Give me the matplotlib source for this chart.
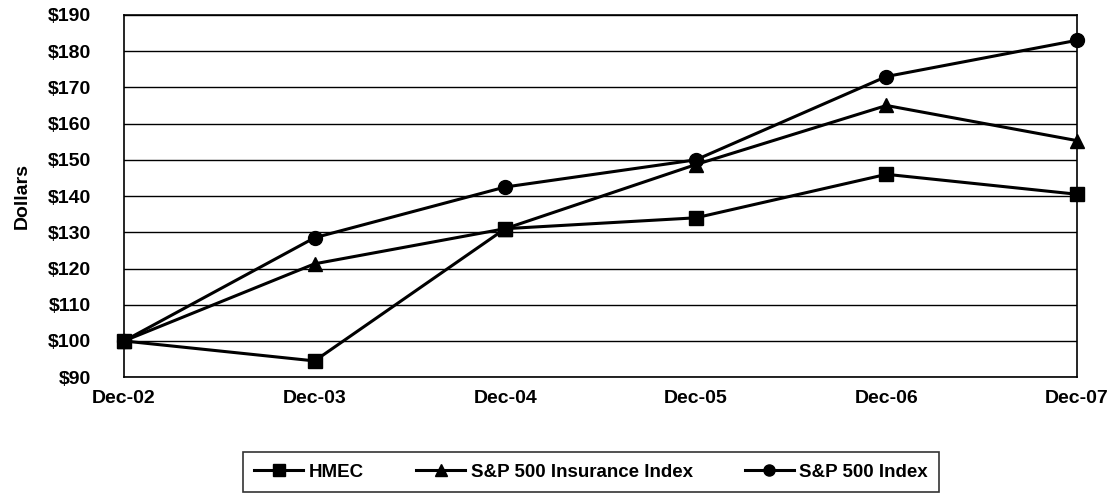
import matplotlib
matplotlib.use("Agg")
import matplotlib.pyplot as plt

# data
years = ["Dec-02", "Dec-03", "Dec-04", "Dec-05", "Dec-06", "Dec-07"]
hmec = [100, 94.5, 131, 134, 146, 140.5]
ins_index = [100, 121.3, 131, 148.7, 165, 155.3]
sp500 = [100, 128.5, 142.5, 150, 173, 183]
yticks = list(range(90, 191, 10))

plt.rcParams["font.family"] = ["Liberation Sans", "DejaVu Sans"]
plt.rcParams["font.weight"] = "bold"

fig = plt.figure(figsize=(11.07, 4.97), dpi=100)
ax = fig.add_axes([0.112, 0.241, 0.861, 0.729])

x = list(range(len(years)))
ax.plot(x, hmec, color="black", lw=2.2, marker="s", ms=10, label="HMEC", clip_on=False, zorder=5)
ax.plot(x, ins_index, color="black", lw=2.2, marker="^", ms=10, label="S&P 500 Insurance Index", clip_on=False, zorder=5)
ax.plot(x, sp500, color="black", lw=2.2, marker="o", ms=10, label="S&P 500 Index", clip_on=False, zorder=5)

ax.set_xlim(0, len(years) - 1)
ax.set_ylim(90, 190)
ax.set_yticks(yticks)
ax.set_yticklabels(["$%d" % v for v in yticks], fontsize=14, fontweight="bold")
ax.set_xticks(x)
ax.set_xticklabels(years, fontsize=14, fontweight="bold")
ax.tick_params(axis="y", length=0, pad=24)
ax.tick_params(axis="x", length=0, pad=9)
ax.yaxis.grid(True, color="black", lw=1)
ax.set_axisbelow(True)
for s in ax.spines.values():
    s.set_color("black")
    s.set_linewidth(1.2)
ax.set_ylabel("Dollars", fontsize=14, fontweight="bold", labelpad=12)

leg = fig.legend(loc="center", bbox_to_anchor=(0.534, 0.05), ncol=3, fontsize=13.5,
                 frameon=True, fancybox=False, edgecolor="black", handlelength=2.6,
                 handletextpad=0.3, columnspacing=2.8, borderpad=0.6, markerscale=0.8)
leg.get_frame().set_linewidth(1.2)

fig.savefig("out.png", dpi=100)
